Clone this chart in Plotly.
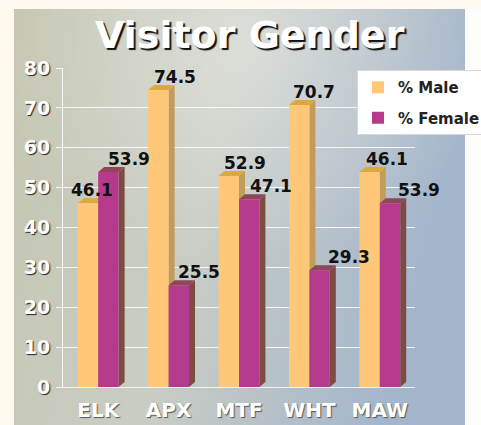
import base64
import plotly.graph_objects as go

# ---- data ----
categories = ["ELK", "APX", "MTF", "WHT", "MAW"]
male = [46.1, 74.5, 52.9, 70.7, 53.9]
female = [53.9, 25.5, 47.1, 29.3, 46.1]
male_labels = ["46.1", "74.5", "52.9", "70.7", "46.1"]
female_labels = ["53.9", "25.5", "47.1", "29.3", "53.9"]
y_ticks = [0, 10, 20, 30, 40, 50, 60, 70, 80]

# ---- style / layout constants ----
W, H = 481, 425
ML, MR, MT, MB = 63, 66, 68, 38
PW, PH = W - ML - MR, H - MT - MB
BARGAP = 0.42
YMAX = 80
DEPTH_X, DEPTH_Y = 6, 5          # px of fake 3D depth
MALE_C, MALE_TOP, MALE_SIDE = "#FFC878", "#DDA93C", "#C29C5C"
FEM_C, FEM_TOP, FEM_SIDE = "#B63A8C", "#8E4658", "#7C4C42"
MALE_DX = [4, 17, 16, 15, 17]
FEM_DX = [21, 20, 22, 29, 29]
FONT = "DejaVu Sans"

n = len(categories)
bw = (1 - BARGAP) / 2
px_x = PW / n
px_y = PH / YMAX
dx, dy = DEPTH_X / px_x, DEPTH_Y / px_y

fig = go.Figure()
fig.add_trace(go.Bar(name="% Male", x=categories, y=male, marker_color=MALE_C,
                     marker_line_width=0, legendgroup="m"))
fig.add_trace(go.Bar(name="% Female", x=categories, y=female, marker_color=FEM_C,
                     marker_line_width=0, legendgroup="f"))

shapes = []
annotations = []
for vals, labels, shifts, off, top_c, side_c in (
        (male, male_labels, MALE_DX, -bw / 2, MALE_TOP, MALE_SIDE),
        (female, female_labels, FEM_DX, bw / 2, FEM_TOP, FEM_SIDE)):
    for i, (v, lab, sh) in enumerate(zip(vals, labels, shifts)):
        xc = i + off
        xl, xr = xc - bw / 2, xc + bw / 2
        shapes.append(dict(type="path", xref="x", yref="y", layer="between",
                           path=f"M{xr},0 L{xr+dx},{dy} L{xr+dx},{v+dy} L{xr},{v} Z",
                           fillcolor=side_c, line_width=0))
        shapes.append(dict(type="path", xref="x", yref="y", layer="between",
                           path=f"M{xl},{v} L{xl+dx},{v+dy} L{xr+dx},{v+dy} L{xr},{v} Z",
                           fillcolor=top_c, line_width=0))
        annotations.append(dict(x=xc, y=v, xref="x", yref="y", text=lab,
                                showarrow=False, yanchor="bottom", xshift=sh, yshift=1,
                                font=dict(family=FONT, size=17, color="#111111", weight="bold")))

# title
annotations.append(dict(x=(250 - ML) / PW, y=(H - MB - 35) / PH, xref="paper", yref="paper",
                        text="Visitor Gender", showarrow=False, yanchor="middle", xanchor="center",
                        font=dict(family=FONT, size=38, color="white", weight="bold",
                                  shadow="2px 2px 1px #111")))

svg = (
    "<svg xmlns='http://www.w3.org/2000/svg' width='467' height='416' viewBox='0 0 467 416' preserveAspectRatio='none'>"
    "<defs><linearGradient id='g' x1='0' y1='0' x2='1' y2='0.25'>"
    "<stop offset='0' stop-color='#C5C6B0'/><stop offset='0.5' stop-color='#C9CDC4'/>"
    "<stop offset='1' stop-color='#A4B6CC'/></linearGradient>"
    "<radialGradient id='r' cx='0.5' cy='0.08' r='0.55'>"
    "<stop offset='0' stop-color='#FFFFFF' stop-opacity='0.35'/>"
    "<stop offset='1' stop-color='#FFFFFF' stop-opacity='0'/></radialGradient></defs>"
    "<rect x='0' y='0' width='451' height='416' fill='url(#g)'/>"
    "<rect x='0' y='0' width='451' height='416' fill='url(#r)'/>"
    "<rect x='451' y='0' width='16' height='416' fill='#FDFDFC'/></svg>"
)
src = "data:image/svg+xml;base64," + base64.b64encode(svg.encode()).decode()

fig.update_layout(
    width=W, height=H,
    margin=dict(l=ML, r=MR, t=MT, b=MB, pad=0, autoexpand=False),
    paper_bgcolor="#FFF9F0", plot_bgcolor="rgba(0,0,0,0)",
    barmode="group", bargap=BARGAP, bargroupgap=0,
    showlegend=True,
    legend=dict(x=(357 - ML) / PW, y=(H - MB - 70) / PH, xanchor="left", yanchor="top",
                bgcolor="white", bordercolor="#D8D8D8", borderwidth=1,
                tracegroupgap=8, traceorder="grouped",
                font=dict(family=FONT, size=15, color="#222222", weight="bold")),
    images=[dict(source=src, xref="paper", yref="paper",
                 x=(14 - ML) / PW, y=(H - MB - 9) / PH,
                 sizex=467 / PW, sizey=416 / PH,
                 xanchor="left", yanchor="top", sizing="stretch", layer="below")],
    shapes=shapes,
    annotations=annotations,
    xaxis=dict(type="category", range=[-0.5, n - 0.5], showgrid=False,
               showline=True, linecolor="rgba(255,255,255,0.8)", linewidth=1,
               ticks="", ticklabelstandoff=5,
               tickfont=dict(family=FONT, size=20, color="white", weight="bold",
                             shadow="1px 1px 1px #555")),
    yaxis=dict(range=[0, YMAX], tickvals=y_ticks, showgrid=True,
               gridcolor="rgba(255,255,255,0.85)", gridwidth=1, zeroline=False,
               showline=True, linecolor="rgba(255,255,255,0.85)", linewidth=1,
               ticks="outside", ticklen=6, tickcolor="rgba(255,255,255,0.85)",
               ticklabelstandoff=2,
               tickfont=dict(family=FONT, size=19, color="white", weight="bold",
                             shadow="1px 1px 1px #222")),
)

fig.write_html("out.html", config={"displayModeBar": False},
               post_script="document.body.style.margin='0';document.body.style.overflow='hidden';")
